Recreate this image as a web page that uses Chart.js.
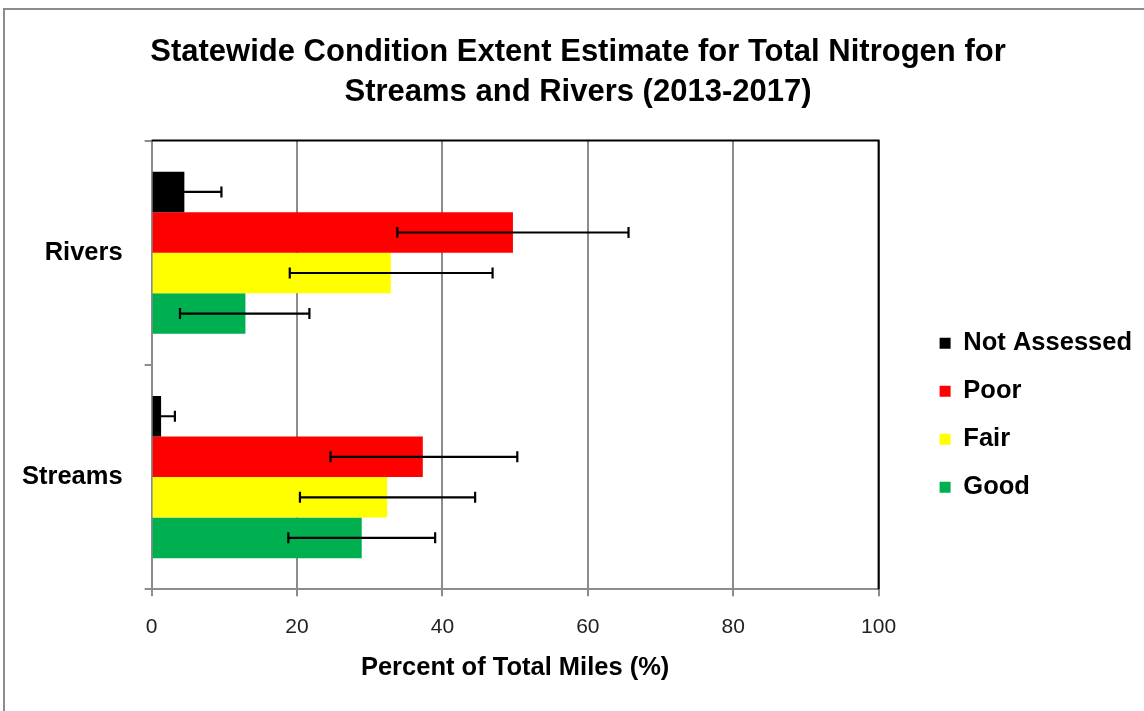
<!DOCTYPE html>
<html>
<head>
<meta charset="utf-8">
<script src="https://cdn.jsdelivr.net/npm/chart.js@4.4.1/dist/chart.umd.min.js"></script>
<style>
  html, body { margin: 0; padding: 0; background: #fff; }
  #wrap { position: relative; width: 1144px; height: 711px; overflow: hidden; }
  #frame {
    position: absolute; left: 3px; top: 8px; width: 1160px; height: 720px;
    border: 2px solid #8c8c8c; box-sizing: border-box;
  }
  canvas { position: absolute; left: 0; top: 0; }
</style>
</head>
<body>
<div id="wrap">
  <div id="frame"></div>
  <canvas id="chart" width="1144" height="711"></canvas>
</div>
<script>
/* ── DATA ───────────────────────────────────────── */
const categories = ["Rivers", "Streams"];
const seriesNames = ["Not Assessed", "Poor", "Fair", "Good"];
const seriesColors = ["#000000", "#ff0000", "#ffff00", "#00b050"];

const notAssessed = [4.5, 1.3];
const poor = [49.7, 37.3];
const fair = [32.9, 32.4];
const good = [12.9, 28.9];

// error bar ends (lower, upper) per series
const notAssessedLow = [0.4, 0.4];
const notAssessedHigh = [9.6, 3.2];
const poorLow = [33.8, 24.6];
const poorHigh = [65.6, 50.3];
const fairLow = [19.0, 20.4];
const fairHigh = [46.9, 44.5];
const goodLow = [3.9, 18.8];
const goodHigh = [21.7, 39.0];

const xTicks = [0, 20, 40, 60, 80, 100];

const values = [notAssessed, poor, fair, good];
const lows = [notAssessedLow, poorLow, fairLow, goodLow];
const highs = [notAssessedHigh, poorHigh, fairHigh, goodHigh];

const FONT = "'Liberation Sans', Arial, sans-serif";
const GRID = "#8c8c8c";
const LEGEND_GAP = 38.5; // extra room between plot and legend
const TITLE_SHIFT = 7;   // title sits a little right of canvas centre

/* ── PLUGINS ────────────────────────────────────── */
// widen the legend box and draw its items shifted right,
// so the legend sits further away from the plot; nudge the title too
const boxTweaks = {
  id: "boxTweaks",
  beforeInit(chart) {
    const legend = chart.legend;
    const fit = legend.fit;
    const draw = legend.draw;
    legend.fit = function () {
      fit.call(this);
      this.width += LEGEND_GAP;
    };
    legend.draw = function () {
      this.left += LEGEND_GAP;
      draw.call(this);
      this.left -= LEGEND_GAP;
    };

    const title = chart.titleBlock;
    const drawTitle = title.draw;
    title.draw = function () {
      this.left += TITLE_SHIFT;
      this.right += TITLE_SHIFT;
      drawTitle.call(this);
      this.left -= TITLE_SHIFT;
      this.right -= TITLE_SHIFT;
    };
  },
};

// black top/right edge of the plot area
const plotFrame = {
  id: "plotFrame",
  afterDatasetsDraw(chart) {
    const { ctx, chartArea: a } = chart;
    ctx.save();
    ctx.strokeStyle = "#000";
    ctx.lineWidth = 2;
    ctx.beginPath();
    ctx.moveTo(a.left, a.top);
    ctx.lineTo(a.right, a.top);
    ctx.lineTo(a.right, a.bottom);
    ctx.stroke();
    ctx.restore();
  },
};

// horizontal error bars drawn through the x scale
const errorBars = {
  id: "errorBars",
  afterDatasetsDraw(chart) {
    const { ctx } = chart;
    const xs = chart.scales.x;
    ctx.save();
    ctx.strokeStyle = "#000";
    ctx.lineWidth = 2.2;
    chart.data.datasets.forEach((ds, d) => {
      const meta = chart.getDatasetMeta(d);
      meta.data.forEach((bar, i) => {
        const x1 = xs.getPixelForValue(lows[d][i]);
        const x2 = xs.getPixelForValue(highs[d][i]);
        const y = bar.y;
        const cap = 5.5;
        ctx.beginPath();
        ctx.moveTo(x1, y);
        ctx.lineTo(x2, y);
        ctx.moveTo(x1, y - cap);
        ctx.lineTo(x1, y + cap);
        ctx.moveTo(x2, y - cap);
        ctx.lineTo(x2, y + cap);
        ctx.stroke();
      });
    });
    ctx.restore();
  },
};

/* ── CHART ──────────────────────────────────────── */
const ctx = document.getElementById("chart").getContext("2d");

new Chart(ctx, {
  type: "bar",
  data: {
    labels: categories,
    datasets: seriesNames.map((name, i) => ({
      label: name,
      data: values[i],
      backgroundColor: seriesColors[i],
      borderWidth: 0,
      categoryPercentage: 0.723,
      barPercentage: 1.0,
    })),
  },
  options: {
    indexAxis: "y",
    responsive: false,
    animation: false,
    devicePixelRatio: 1,
    layout: { padding: { left: 0, right: 2, bottom: 28 } },
    plugins: {
      title: {
        display: true,
        text: [
          "Statewide Condition Extent Estimate for Total Nitrogen for",
          "Streams and Rivers (2013-2017)",
        ],
        color: "#000",
        font: { family: FONT, size: 31, weight: "bold", lineHeight: 1.3 },
        padding: { top: 32, bottom: 28 },
      },
      legend: {
        position: "right",
        align: "start",
        title: {
          display: true,
          text: " ",
          font: { size: 10, lineHeight: 1 },
          padding: { top: 298, bottom: 0 },
        },
        labels: {
          color: "#000",
          font: { family: FONT, size: 25.5, weight: "bold" },
          boxWidth: 11,
          boxHeight: 11,
          padding: 22.5,
        },
      },
      tooltip: { enabled: false },
    },
    scales: {
      x: {
        min: 0,
        max: 100,
        afterBuildTicks: (axis) => {
          axis.ticks = xTicks.map((v) => ({ value: v }));
        },
        grid: { color: GRID, lineWidth: 2, tickLength: 7 },
        border: { color: GRID, width: 2 },
        ticks: {
          color: "#222",
          font: { family: FONT, size: 21 },
          padding: 18,
        },
        title: {
          display: true,
          text: "Percent of Total Miles (%)",
          color: "#000",
          font: { family: FONT, size: 25.5, weight: "bold" },
          padding: { top: -5, bottom: 0 },
        },
      },
      y: {
        grid: { color: GRID, lineWidth: 2, tickLength: 7, drawOnChartArea: false, offset: true },
        border: { color: GRID, width: 2 },
        ticks: {
          color: "#000",
          font: { family: FONT, size: 25.5, weight: "bold" },
          padding: 22,
        },
      },
    },
  },
  plugins: [boxTweaks, errorBars, plotFrame],
});
</script>
</body>
</html>
